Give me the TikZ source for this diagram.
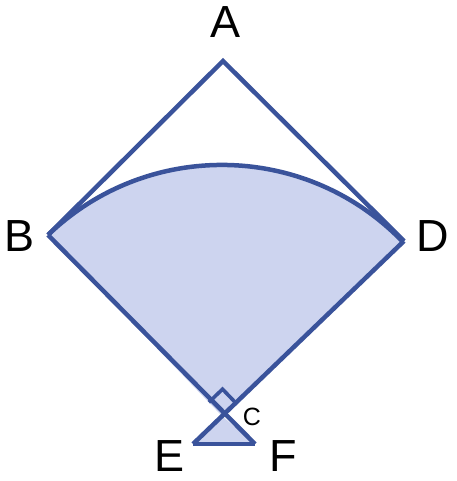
\documentclass[tikz,border=0pt]{standalone}
\usepackage{fontspec}
\setmainfont{Liberation Sans}
\usetikzlibrary{calc}
\begin{document}
\begin{tikzpicture}[x=1pt,y=-1pt,
  edge/.style={draw=lineblue,line width=4.5pt,line join=miter},
  lbl/.style={font=\fontsize{45}{45}\selectfont,text=black,inner sep=0pt},
  slbl/.style={font=\fontsize{25}{25}\selectfont,text=black,inner sep=0pt}]
\definecolor{lineblue}{HTML}{3A539B}
\definecolor{fillblue}{HTML}{CDD4EF}
\useasboundingbox (0,0) rectangle (456,481);
\coordinate (A) at (223,61);
\coordinate (B) at (48,235);
\coordinate (D) at (404,241);
\coordinate (C) at (222,416);
\coordinate (E) at (193,444);
\coordinate (F) at (255,444);
% sector
\pgfmathsetmacro{\R}{veclen(48-222,235-416)}
\pgfmathsetmacro{\aB}{atan2(235-416,48-222)}
\pgfmathsetmacro{\aD}{atan2(241-416,404-222)}
\fill[fillblue] (C) -- (B) arc[start angle=\aB, end angle=\aD, radius=\R] -- cycle;
\fill[fillblue] (C) -- (E) -- (F) -- cycle;
\draw[edge] (B) arc[start angle=\aB, end angle=\aD, radius=\R];
\draw[edge] (E) -- (F);
\draw[edge] (B) -- (A) -- (D);
\draw[edge] (B) -- (F);
\draw[edge] (D) -- (E);
% right angle mark
\coordinate (m1) at ($(C)!19pt!(B)$);
\coordinate (m2) at ($(C)!19pt!(D)$);
\coordinate (m3) at ($(m1)+(m2)-(C)$);
\draw[edge,line width=3.6pt] (m1) -- (m3) -- (m2);
\node[lbl] (la) at (226,22) {A};
\node[lbl] (lb) at (20,236) {B};
\node[lbl] (ld) at (433,236) {D};
\node[slbl] (lc) at (252,417) {C};
\node[lbl] (le) at (170,456) {E};
\node[lbl] (lf) at (283,456) {F};
\end{tikzpicture}
\end{document}
